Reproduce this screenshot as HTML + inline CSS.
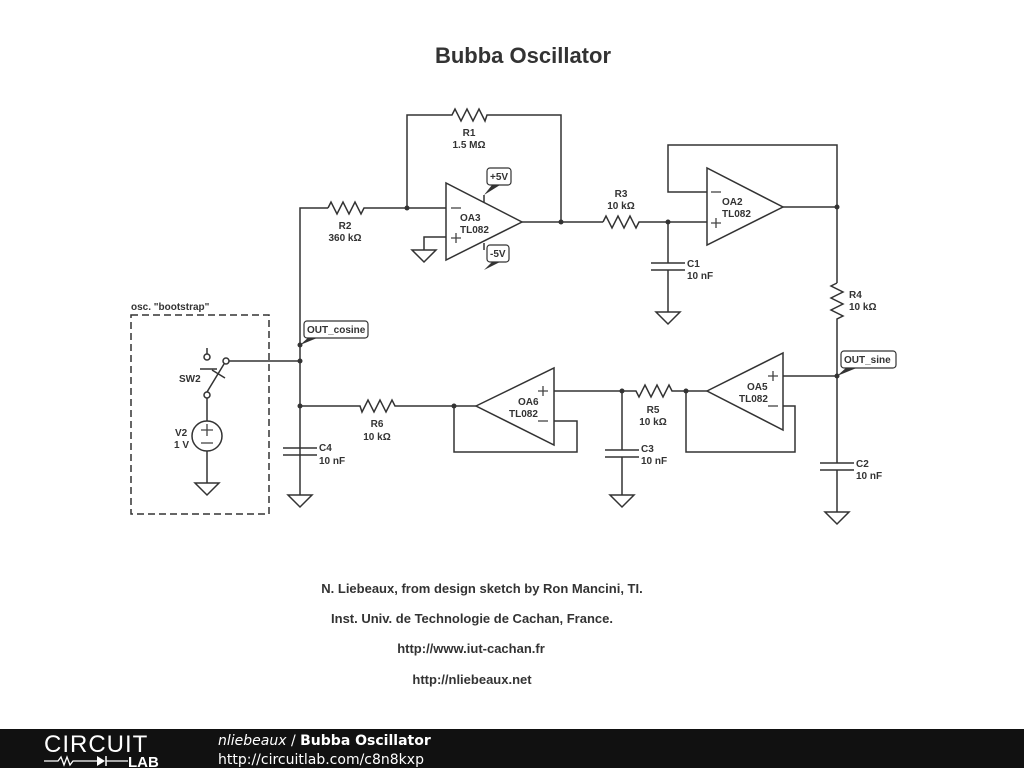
<!DOCTYPE html>
<html><head><meta charset="utf-8"><style>
body{margin:0;width:1024px;height:768px;background:#fff;overflow:hidden;font-family:"Liberation Sans",sans-serif}
svg{position:absolute;left:0;top:0}
</style></head><body>
<svg width="1024" height="768" viewBox="0 0 1024 768">
<rect width="1024" height="768" fill="#fff"/>
<text x="523" y="63" font-size="22" font-weight="bold" fill="#333" text-anchor="middle">Bubba Oscillator</text>
<g fill="none" stroke="#333" stroke-width="1.5">
<polyline points="328,208 300,208 300,495"/>
<path d="M328,208 l3,-6 l6,12 l6,-12 l6,12 l6,-12 l6,12 l3,-6 L446,208"/>
<path d="M407,208 V115 H452 l3,-6 l6,12 l6,-12 l6,12 l6,-12 l6,12 l2,-6 H561 V222"/>
<polygon points="446,183 446,260 522,222"/>
<polyline points="522,222 603,222"/>
<path d="M603,222 l3,-6 l6,12 l6,-12 l6,12 l6,-12 l6,12 l3,-6 H707"/>
<polyline points="484,195 484,202"/><polyline points="484,243 484,250"/>
<polyline points="446,237 424,237 424,250"/>
<polygon points="412,250 436,250 424,262"/>
<polygon points="707,168 707,245 783,207"/>
<polyline points="707,192 668,192 668,145 837,145 837,283"/>
<polyline points="783,207 837,207"/>
<polyline points="668,222 668,263"/><line x1="651" y1="263" x2="685" y2="263"/><line x1="651" y1="270" x2="685" y2="270"/><polyline points="668,270 668,312"/>
<polygon points="656,312 680,312 668,324"/>
<path d="M837,283 l-6,3 l12,6 l-12,6 l12,6 l-12,6 l12,6 l-6,3 V463"/>
<line x1="820" y1="463" x2="854" y2="463"/><line x1="820" y1="470" x2="854" y2="470"/><polyline points="837,470 837,512"/>
<polygon points="825,512 849,512 837,524"/>
<polygon points="707,391 783,353 783,430"/>
<polyline points="837,376 783,376"/>
<polyline points="783,406 795,406 795,452 686,452 686,391 707,391"/>
<path d="M686,391 H672 l-3,-6 l-6,12 l-6,-12 l-6,12 l-6,-12 l-6,12 l-3,-6 H554"/>
<polygon points="476,406 554,368 554,445"/>
<polyline points="554,421 577,421 577,452 454,452 454,406 476,406"/>
<path d="M454,406 H395 l-3,-6 l-6,12 l-6,-12 l-6,12 l-6,-12 l-6,12 l-2,-6 H300"/>
<polyline points="622,391 622,450"/><line x1="605" y1="450" x2="639" y2="450"/><line x1="605" y1="457" x2="639" y2="457"/><polyline points="622,457 622,495"/>
<polygon points="610,495 634,495 622,507"/>
<line x1="283" y1="448" x2="317" y2="448"/><line x1="283" y1="455" x2="317" y2="455"/>
<polygon points="288,495 312,495 300,507"/>
<rect x="131" y="315" width="138" height="199" stroke-dasharray="7,4"/>
<circle cx="207" cy="357" r="3" fill="#fff"/><circle cx="226" cy="361" r="3" fill="#fff"/><circle cx="207" cy="395" r="3" fill="#fff"/>
<line x1="207" y1="354" x2="207" y2="348"/>
<line x1="229" y1="361" x2="300" y2="361"/>
<line x1="207" y1="392" x2="224" y2="364"/>
<line x1="212" y1="370" x2="225" y2="378"/>
<line x1="217" y1="369" x2="200" y2="369"/>
<polyline points="207,398 207,421"/>
<circle cx="207" cy="436" r="15"/>
<polyline points="207,451 207,483"/>
<polygon points="195,483 219,483 207,495"/>
</g>
<g fill="#333">
<circle cx="407" cy="208" r="2.5"/><circle cx="561" cy="222" r="2.5"/><circle cx="668" cy="222" r="2.5"/><circle cx="837" cy="207" r="2.5"/>
<circle cx="837" cy="376" r="2.5"/><circle cx="686" cy="391" r="2.5"/><circle cx="622" cy="391" r="2.5"/><circle cx="454" cy="406" r="2.5"/>
<circle cx="300" cy="345" r="2.5"/><circle cx="300" cy="361" r="2.5"/><circle cx="300" cy="406" r="2.5"/>
<polygon points="484,195 492,185 500,185"/><polygon points="484,270 492,262 500,262"/>
<polygon points="300,345 310,336 322,336"/><polygon points="837,376 847,367 859,367"/>
</g>
<g font-size="11" fill="#333" stroke="#333" stroke-width="1.2">
<rect x="487" y="168" width="24" height="17" rx="3" fill="#fff"/>
<rect x="487" y="245" width="22" height="17" rx="3" fill="#fff"/>
<rect x="304" y="321" width="64" height="17" rx="3" fill="#fff"/>
<rect x="841" y="351" width="55" height="17" rx="3" fill="#fff"/>
</g>
<g font-size="10" font-weight="bold" fill="#333">
<text x="490" y="180">+5V</text><text x="490" y="257">-5V</text>
<text x="307" y="333">OUT_cosine</text><text x="844" y="363">OUT_sine</text>
<text x="469" y="136" text-anchor="middle">R1</text><text x="469" y="148" text-anchor="middle">1.5 MΩ</text>
<text x="345" y="229" text-anchor="middle">R2</text><text x="345" y="241" text-anchor="middle">360 kΩ</text>
<text x="621" y="197" text-anchor="middle">R3</text><text x="621" y="209" text-anchor="middle">10 kΩ</text>
<text x="460" y="221">OA3</text><text x="460" y="233">TL082</text>
<text x="722" y="205">OA2</text><text x="722" y="217">TL082</text>
<text x="687" y="267">C1</text><text x="687" y="279">10 nF</text>
<text x="849" y="298">R4</text><text x="849" y="310">10 kΩ</text>
<text x="747" y="390">OA5</text><text x="739" y="402">TL082</text>
<text x="518" y="405">OA6</text><text x="509" y="417">TL082</text>
<text x="653" y="413" text-anchor="middle">R5</text><text x="653" y="425" text-anchor="middle">10 kΩ</text>
<text x="377" y="427" text-anchor="middle">R6</text><text x="377" y="440" text-anchor="middle">10 kΩ</text>
<text x="641" y="452">C3</text><text x="641" y="464">10 nF</text>
<text x="856" y="467">C2</text><text x="856" y="479">10 nF</text>
<text x="319" y="451">C4</text><text x="319" y="464">10 nF</text>
<text x="131" y="310">osc. "bootstrap"</text>
<text x="179" y="382">SW2</text>
<text x="175" y="436">V2</text><text x="174" y="448">1 V</text>
</g>
<g stroke="#444" stroke-width="1.3" fill="none">
<path d="M451,208 h10"/><path d="M451,238 h10 M456,233 v10"/>
<path d="M711,192 h10"/><path d="M711,223 h10 M716,218 v10"/>
<path d="M768,376 h10 M773,371 v10"/><path d="M768,406 h10"/>
<path d="M538,391 h10 M543,386 v10"/><path d="M538,421 h10"/>
<path d="M201,430 h12 M207,424 v12"/><path d="M201,443 h12"/>
</g>
<g font-size="13" font-weight="bold" fill="#333" text-anchor="middle">
<text x="482" y="593">N. Liebeaux, from design sketch by Ron Mancini, TI.</text>
<text x="472" y="623">Inst. Univ. de Technologie de Cachan, France.</text>
<text x="471" y="653">http://www.iut-cachan.fr</text>
<text x="472" y="684">http://nliebeaux.net</text>
</g>
<rect x="0" y="729" width="1024" height="39" fill="#111"/>
<text x="44" y="752" font-size="24" fill="#fff" font-family="Liberation Sans" letter-spacing="1">CIRCUIT</text>
<polyline points="44,761 58,761 61,757 64,765 67,757 70,765 73,761 97,761" fill="none" stroke="#fff" stroke-width="1.3"/>
<polygon points="97,756 97,766 105,761" fill="#fff"/><line x1="106" y1="756" x2="106" y2="766" stroke="#fff" stroke-width="1.5"/>
<line x1="106" y1="761" x2="128" y2="761" stroke="#fff" stroke-width="1.3"/>
<text x="128" y="767" font-size="15" font-weight="bold" fill="#fff">LAB</text>
<text x="218" y="745" font-size="14" fill="#fff" font-family="DejaVu Sans"><tspan font-style="italic">nliebeaux</tspan> / <tspan font-weight="bold">Bubba Oscillator</tspan></text>
<text x="218" y="764" font-size="14" fill="#fff" font-family="DejaVu Sans">http://circuitlab.com/c8n8kxp</text>
</svg>
</body></html>
